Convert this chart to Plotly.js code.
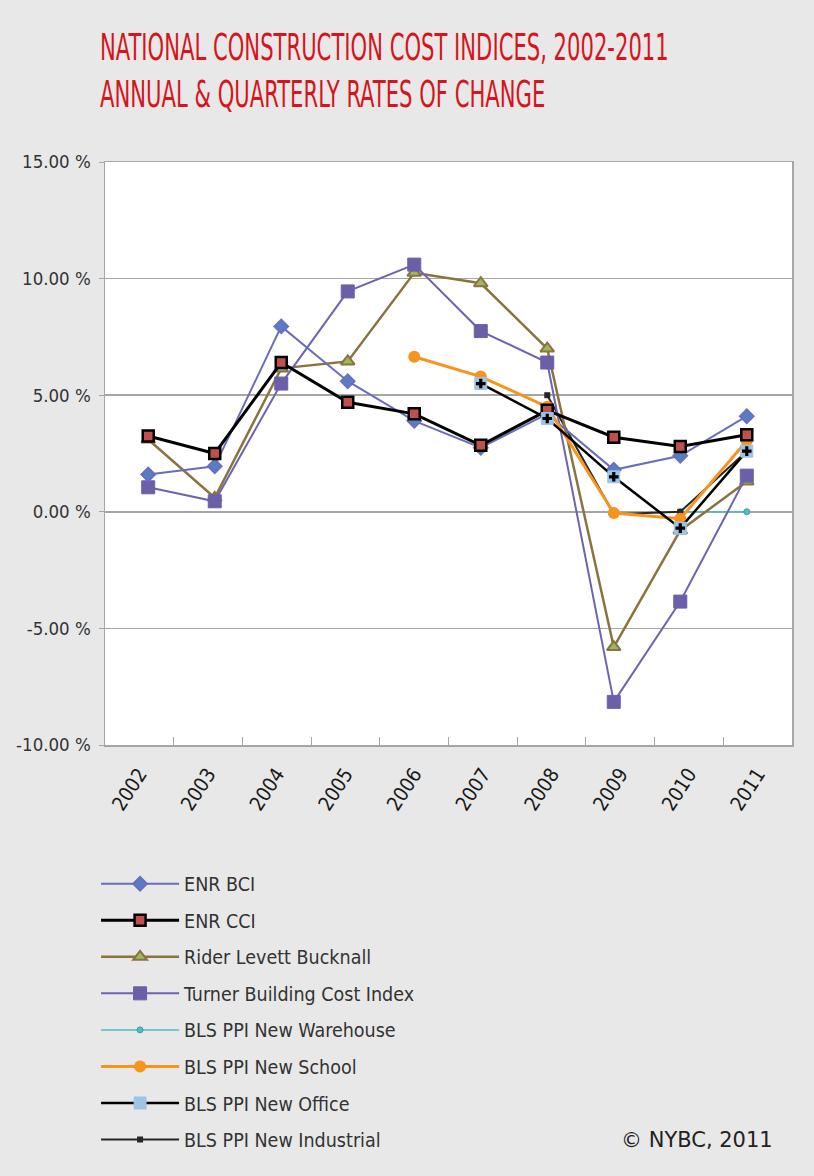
<!DOCTYPE html>
<html>
<head>
<meta charset="utf-8">
<script src="https://cdn.plot.ly/plotly-3.0.1.min.js"></script>
<style>
html,body{margin:0;padding:0;background:#e8e8e8;}
#chart{width:814px;height:1176px;}
</style>
</head>
<body>
<div id="chart"></div>
<script>
const years = [2002, 2003, 2004, 2005, 2006, 2007, 2008, 2009, 2010, 2011];
const yearLabels = ["2002", "2003", "2004", "2005", "2006", "2007", "2008", "2009", "2010", "2011"];
const enrBCI = [1.6, 1.95, 7.95, 5.6, 3.9, 2.75, 4.2, 1.8, 2.4, 4.1];
const enrCCI = [3.25, 2.5, 6.4, 4.7, 4.2, 2.85, 4.35, 3.2, 2.8, 3.3];
const riderLevett = [3.1, 0.6, 6.15, 6.45, 10.25, 9.8, 7.0, -5.8, -0.8, 1.3];
const turner = [1.05, 0.45, 5.5, 9.45, 10.6, 7.75, 6.4, -8.15, -3.85, 1.55];
const warehouse = [null, null, null, null, null, null, null, null, 0, 0];
const school = [null, null, null, null, 6.65, 5.8, 4.5, -0.05, -0.3, 3.05];
const office = [null, null, null, null, null, 5.5, 4.0, 1.5, -0.7, 2.6];
const industrial = [null, null, null, null, null, null, 5.0, -0.1, 0.0, 2.6];
const yTickVals = [-10, -5, 0, 5, 10, 15];
const yTickText = ["-10.00 %", "-5.00 %", "0.00 %", "5.00 %", "10.00 %", "15.00 %"];

const narrow = "Liberation Sans Narrow, DejaVu Sans Condensed, Arial Narrow, sans-serif";

function tr(name, y, rank, line, marker, extra) {
  return Object.assign({
    type: "scatter", mode: "lines+markers", name: name,
    x: years, y: y, xaxis: "x2", yaxis: "y",
    legendrank: rank, legendgroup: "g" + rank,
    line: line, marker: marker, connectgaps: false
  }, extra || {});
}

const traces = [
  {type: "scatter", mode: "markers", x: years, y: years.map(() => null),
   xaxis: "x", yaxis: "y", showlegend: false, hoverinfo: "skip"},
  tr("BLS PPI New Warehouse", warehouse, 5, {color: "#4bbfc5", width: 1.5},
     {symbol: "circle", size: 6, color: "#4bbfc5", line: {color: "#3aa0b0", width: 1}}),
  tr("BLS PPI New Industrial", industrial, 8, {color: "#262626", width: 2},
     {symbol: "square", size: 6, color: "#262626"}),
  tr("Rider Levett Bucknall", riderLevett, 3, {color: "#8b7340", width: 2.5},
     {symbol: "triangle-up", size: 12, color: "#9bbb59", line: {color: "#8b7340", width: 2}}),
  tr("Turner Building Cost Index", turner, 4, {color: "#6b65b0", width: 2},
     {symbol: "square", size: 13, color: "#6b5fa8", line: {color: "#6b5fa8", width: 1}}),
  tr("ENR BCI", enrBCI, 1, {color: "#6a6db8", width: 2},
     {symbol: "diamond", size: 11, color: "#5a7cc4", line: {color: "#6a6db8", width: 1.5}}),
  tr("BLS PPI New School", school, 6, {color: "#f7941d", width: 3},
     {symbol: "circle", size: 12, color: "#f7941d"}),
  tr("ENR CCI", enrCCI, 2, {color: "#000000", width: 3},
     {symbol: "square", size: 11, color: "#c0504d", line: {color: "#000000", width: 2.5}}),
  tr("BLS PPI New Office", office, 7, {color: "#000000", width: 2.5},
     {symbol: "square", size: 12, color: "#9dc3e6", line: {color: "#9dc3e6", width: 1}}),
  tr("BLS PPI New Office", office, 99, {color: "#000000", width: 0},
     {symbol: "cross", size: 8, color: "#000000"}, {mode: "markers", showlegend: false})
];

const layout = {
  width: 814, height: 1176,
  paper_bgcolor: "#e8e8e8", plot_bgcolor: "#ffffff",
  margin: {l: 105, r: 22, t: 162, b: 431},
  title: {
    text: "NATIONAL CONSTRUCTION COST INDICES, 2002-2011<br>ANNUAL &amp; QUARTERLY RATES OF CHANGE",
    font: {family: narrow, size: 23.5, color: "#d4161c"},
    x: 100 / 814, xanchor: "left", xref: "container",
    y: 1 - 64 / 1176, yanchor: "middle", yref: "container"
  },
  showlegend: true,
  legend: {
    x: -0.013, xanchor: "left", y: -0.205, yanchor: "top",
    bgcolor: "rgba(0,0,0,0)", font: {family: narrow, size: 19.5, color: "#333333"},
    itemwidth: 78, tracegroupgap: 8.2, traceorder: "grouped"
  },
  xaxis: {
    type: "linear", range: [years[0] - 0.5, years[years.length - 1] + 0.5],
    tickvals: years, ticktext: yearLabels, tickangle: -57,
    ticks: "", showgrid: false, zeroline: false, ticklabelstandoff: 8,
    showline: true, linecolor: "#a6a6a6", linewidth: 1.5, mirror: true,
    tickfont: {family: narrow, size: 20, color: "#1a1a1a"},
    minor: {tickvals: years.slice(1).map(v => v - 0.5), ticks: "inside", ticklen: 8, tickcolor: "#a6a6a6", tickwidth: 1, showgrid: false}
  },
  xaxis2: {
    type: "linear", overlaying: "x", range: [years[0] - 0.65, years[years.length - 1] + 0.68],
    visible: false
  },
  yaxis: {
    range: [-10, 15], tickvals: yTickVals, ticktext: yTickText,
    showgrid: true, gridcolor: "#a6a6a6", gridwidth: 1.5,
    zeroline: false, showline: true, linecolor: "#a6a6a6", linewidth: 1.5, mirror: true,
    ticks: "outside", ticklen: 5, tickcolor: "#a6a6a6", ticklabelstandoff: 4,
    tickfont: {family: narrow, size: 18.5, color: "#333333"}
  },
  annotations: [{
    text: "© NYBC, 2011", xref: "paper", yref: "paper",
    x: 0.975, y: (745 - 1140) / 583, xanchor: "right", yanchor: "middle",
    showarrow: false, font: {family: "DejaVu Sans, sans-serif", size: 21, color: "#222222"}
  }]
};

Plotly.newPlot("chart", traces, layout, {displayModeBar: false, staticPlot: true}).then(function (gd) {
  const t = gd.querySelector(".gtitle");
  if (t) {
    t.style.transformBox = "fill-box";
    t.style.transformOrigin = "center";
    t.style.transform = "scaleY(1.55)";
  }
});
</script>
</body>
</html>
